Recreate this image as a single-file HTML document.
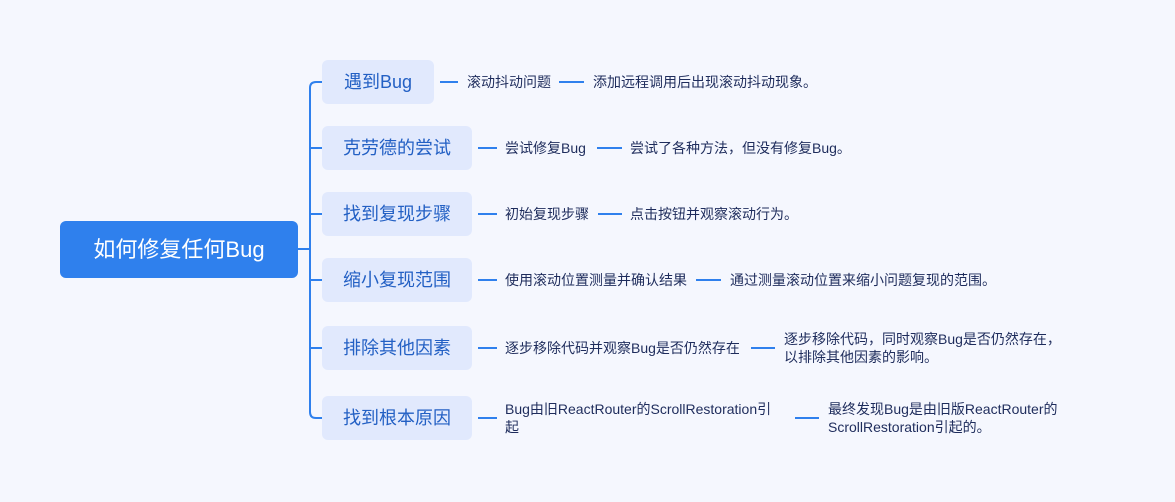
<!DOCTYPE html>
<html><head><meta charset="utf-8"><style>
body{margin:0;width:1175px;height:502px;background:#f5f7fe;position:relative;overflow:hidden;font-family:"Liberation Sans","Noto Sans CJK SC",sans-serif}
.a{position:absolute}
.root{left:60px;top:221px;width:238px;height:57px;background:#2f80ed;border-radius:6px;color:#fff;font-size:22px;line-height:57px;text-align:center}
.b{left:322px;height:44px;width:150px;background:#e1e9fd;border-radius:6px;color:#2360c4;font-size:18px;line-height:44px;text-align:center}
.l{height:2px;background:#2f80ed}
.t{font-size:14px;color:#1e2c5c;line-height:18px;white-space:nowrap}
</style></head><body>
<div class="a root">如何修复任何Bug</div>
<svg class="a" style="left:0;top:0" width="1175" height="502">
<path d="M298 249 H310" stroke="#2f80ed" stroke-width="2" fill="none"/>
<path d="M322 82 H316 Q310 82 310 88 V412 Q310 418 316 418 H322" stroke="#2f80ed" stroke-width="2" fill="none"/>
<path d="M310 148H322M310 214H322M310 280H322M310 348H322" stroke="#2f80ed" stroke-width="2"/>
</svg>
<div class="a b" style="top:60px;width:112px">遇到Bug</div>
<div class="a b" style="top:126px">克劳德的尝试</div>
<div class="a b" style="top:192px">找到复现步骤</div>
<div class="a b" style="top:258px">缩小复现范围</div>
<div class="a b" style="top:326px">排除其他因素</div>
<div class="a b" style="top:396px">找到根本原因</div>

<div class="a l" style="left:440px;top:81px;width:18px"></div>
<div class="a t" style="left:467px;top:73px">滚动抖动问题</div>
<div class="a l" style="left:559px;top:81px;width:25px"></div>
<div class="a t" style="left:593px;top:73px">添加远程调用后出现滚动抖动现象。</div>

<div class="a l" style="left:478px;top:147px;width:19px"></div>
<div class="a t" style="left:505px;top:139px">尝试修复Bug</div>
<div class="a l" style="left:597px;top:147px;width:25px"></div>
<div class="a t" style="left:630px;top:139px">尝试了各种方法，但没有修复Bug。</div>

<div class="a l" style="left:478px;top:213px;width:19px"></div>
<div class="a t" style="left:505px;top:205px">初始复现步骤</div>
<div class="a l" style="left:598px;top:213px;width:24px"></div>
<div class="a t" style="left:630px;top:205px">点击按钮并观察滚动行为。</div>

<div class="a l" style="left:478px;top:279px;width:19px"></div>
<div class="a t" style="left:505px;top:271px">使用滚动位置测量并确认结果</div>
<div class="a l" style="left:696px;top:279px;width:25px"></div>
<div class="a t" style="left:730px;top:271px">通过测量滚动位置来缩小问题复现的范围。</div>

<div class="a l" style="left:478px;top:347px;width:19px"></div>
<div class="a t" style="left:505px;top:339px">逐步移除代码并观察Bug是否仍然存在</div>
<div class="a l" style="left:751px;top:347px;width:24px"></div>
<div class="a t" style="left:784px;top:330px">逐步移除代码，同时观察Bug是否仍然存在，<br>以排除其他因素的影响。</div>

<div class="a l" style="left:478px;top:417px;width:19px"></div>
<div class="a t" style="left:505px;top:400px">Bug由旧ReactRouter的ScrollRestoration引<br>起</div>
<div class="a l" style="left:795px;top:417px;width:24px"></div>
<div class="a t" style="left:828px;top:400px">最终发现Bug是由旧版ReactRouter的<br>ScrollRestoration引起的。</div>
</body></html>
